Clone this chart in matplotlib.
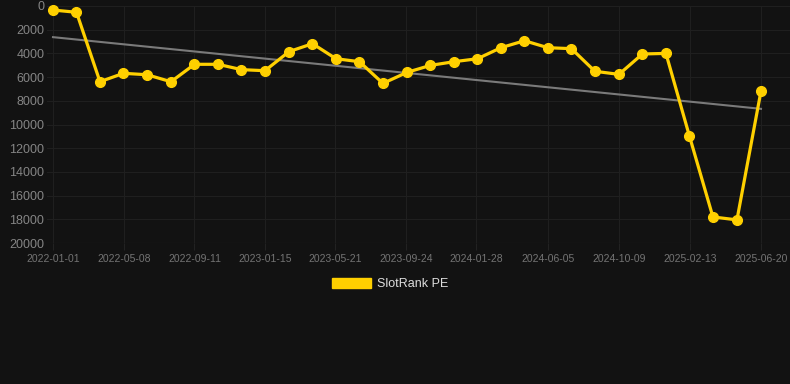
import matplotlib
matplotlib.use("Agg")
import matplotlib.pyplot as plt
import matplotlib.dates as mdates
from matplotlib.patches import Patch
import numpy as np
import pandas as pd

dates = ["2022-01-01", "2022-02-12", "2022-03-26", "2022-05-07", "2022-06-18",
         "2022-07-31", "2022-09-11", "2022-10-23", "2022-12-04", "2023-01-15",
         "2023-02-27", "2023-04-10", "2023-05-22", "2023-07-03", "2023-08-14",
         "2023-09-26", "2023-11-07", "2023-12-19", "2024-01-30", "2024-03-12",
         "2024-04-23", "2024-06-04", "2024-07-16", "2024-08-27", "2024-10-09",
         "2024-11-20", "2025-01-01", "2025-02-12", "2025-03-26", "2025-05-08",
         "2025-06-20"]
ranks = [340, 530, 6390, 5680, 5800, 6390, 4920, 4920, 5370, 5460,
         3850, 3180, 4450, 4700, 6530, 5600, 5010, 4700, 4450, 3520,
         2930, 3520, 3600, 5510, 5770, 4050, 4000, 10970, 17800, 18050,
         7170]
tick_labels = ["2022-01-01", "2022-05-08", "2022-09-11", "2023-01-15", "2023-05-21",
               "2023-09-24", "2024-01-28", "2024-06-05", "2024-10-09", "2025-02-13",
               "2025-06-20"]
y_ticks = [0, 2000, 4000, 6000, 8000, 10000, 12000, 14000, 16000, 18000, 20000]
series_name = "SlotRank PE"

BG = "#121212"
YELLOW = "#FFD000"

plt.rcParams['font.family'] = ['Liberation Sans', 'DejaVu Sans']

x = pd.to_datetime(dates)
xn = mdates.date2num(x)
y = np.array(ranks, dtype=float)

fig = plt.figure(figsize=(7.9, 3.84), dpi=100, facecolor=BG)
W, H = 790, 384
left_px, right_px = 47, 790
top_px, bot_px = 6, 243
ax = fig.add_axes([left_px / W, 1 - bot_px / H, (right_px - left_px) / W, (bot_px - top_px) / H])
ax.set_facecolor(BG)

# x mapping: first date at px 53, last at px 761
x0, x1 = xn[0], xn[-1]
ppd = (761 - 53) / (x1 - x0)
ax.set_xlim(x0 - (53 - left_px) / ppd, x1 + (right_px - 761) / ppd)
ax.set_ylim(20000, 0)

# trend line
coef = np.polyfit(xn, y, 1)
ax.plot([x0, x1], np.polyval(coef, [x0, x1]), color="#7a7a7a", lw=1.5, zorder=2)

ax.plot(xn, y, color=YELLOW, lw=2.3, marker="o", markersize=7,
        markerfacecolor=YELLOW, markeredgecolor=YELLOW, zorder=3, clip_on=False)

tick_pos = mdates.date2num(pd.to_datetime(tick_labels))
ax.set_xticks(tick_pos)
ax.set_xticklabels(tick_labels)
ax.set_yticks(y_ticks)
ax.set_yticklabels([str(v) for v in y_ticks])

ax.grid(True, color="#1f1f1f", lw=0.8)
ax.set_axisbelow(True)
for s in ax.spines.values():
    s.set_visible(False)
ax.tick_params(axis="x", colors="#222222", labelcolor="#747474", labelsize=7.5,
               length=5, width=0.8, pad=3)
ax.tick_params(axis="y", length=0, labelcolor="#858585", labelsize=9, pad=2)
ax.axhline(20000, color="#2a2a2a", lw=0.8, zorder=1)

fig.legend(handles=[Patch(facecolor=YELLOW, edgecolor=YELLOW, label=series_name)],
           loc="center", bbox_to_anchor=(390 / W, 1 - 284 / H), frameon=False,
           handlelength=3.1, handleheight=0.9, handletextpad=0.5,
           fontsize=9, labelcolor="#dddddd")

fig.savefig("out.png", dpi=100, facecolor=BG)
